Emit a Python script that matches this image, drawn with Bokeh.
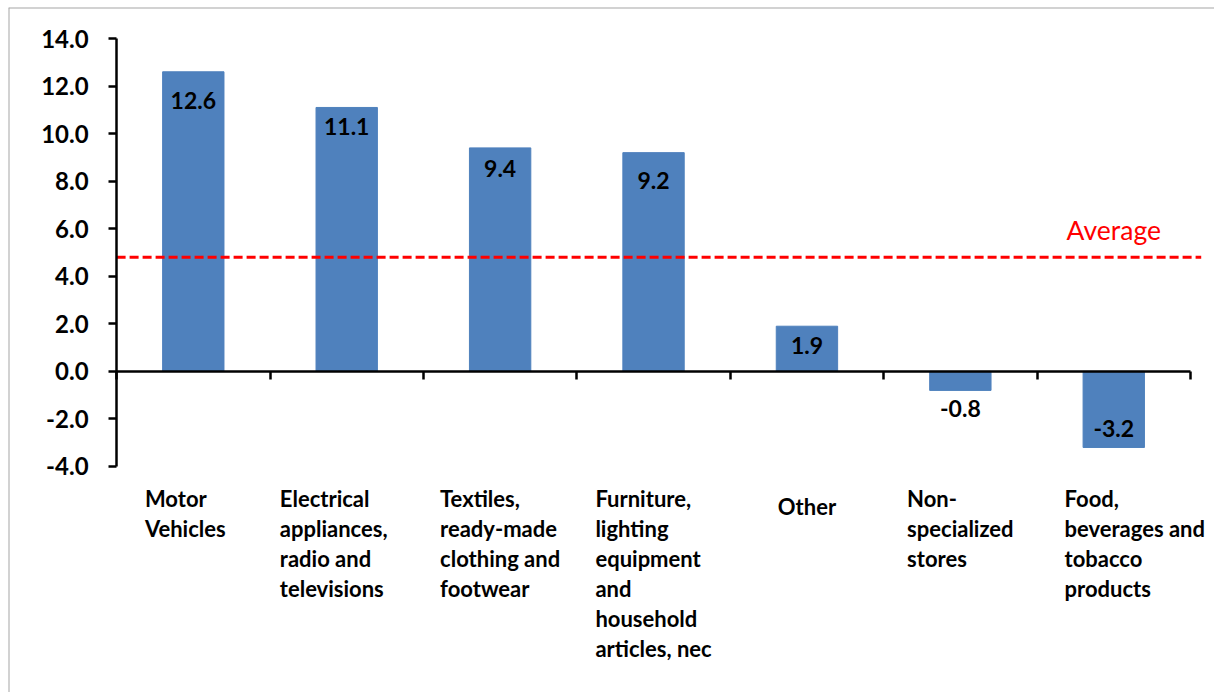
from bokeh.plotting import figure
from bokeh.models import Span, FixedTicker, NumeralTickFormatter, ColumnDataSource
from bokeh.core.properties import value
from bokeh.embed import file_html
from bokeh.resources import INLINE

# ---- data ----
categories = [
    "Motor\nVehicles",
    "Electrical\nappliances,\nradio and\ntelevisions",
    "Textiles,\nready-made\nclothing and\nfootwear",
    "Furniture,\nlighting\nequipment\nand\nhousehold\narticles, nec",
    "Other",
    "Non-\nspecialized\nstores",
    "Food,\nbeverages and\ntobacco\nproducts",
]
values = [12.6, 11.1, 9.4, 9.2, 1.9, -0.8, -3.2]
average = 4.8
average_label = "Average"
y_ticks = [-4, -2, 0, 2, 4, 6, 8, 10, 12, 14]

# ---- styles ----
BAR = "#4F81BD"
FONT = "Lato"
value_label_dy = [29, 19, 21, 28, 19, 18, -19]   # px from bar end to label centre
cat_label_dy = [0, 0, 0, 0, 8, 0, 0]
cat_label_dx = [-8, -13, 0, 0, 0, 0, 21]

n = len(categories)
xs = list(range(n))

p = figure(width=1214, height=692, output_backend="svg", toolbar_location=None,
           x_range=(-1.2046, n - 0.5 + 0.1566), y_range=(-13.505, 15.304),
           min_border_left=8, min_border_top=7, min_border_right=0, min_border_bottom=0)
p.grid.visible = False
p.outline_line_color = None
p.background_fill_color = "white"
p.border_fill_color = "white"

# chart-area border (left and top)
p.add_layout(Span(location=p.x_range.start, dimension="height", line_color="#A6A6A6", line_width=2))
p.add_layout(Span(location=p.y_range.end, dimension="width", line_color="#A6A6A6", line_width=2))

# bars
p.vbar(x=xs, top=values, bottom=0, width=0.4, fill_color=BAR, line_color=BAR)

# average line
p.segment(x0=[-0.5], x1=[n - 0.5 + 0.07], y0=[average], y1=[average],
          line_color="#FF0000", line_width=3, line_dash="9 4")
p.text(x=[n - 1], y=[average], text=[average_label], text_color="#FF0000",
       text_font=value(FONT), text_font_size="26.5px", text_align="center",
       text_baseline="bottom", y_offset=-11)

# value labels
lab_src = ColumnDataSource(dict(x=xs, y=values, t=[f"{v:.1f}" for v in values], dy=value_label_dy))
p.text(x="x", y="y", text="t", source=lab_src, text_font=value(FONT), text_font_style="bold",
       text_font_size="23px", text_color="black", text_align="center", text_baseline="middle",
       y_offset="dy")

# category labels
cat_src = ColumnDataSource(dict(x=xs, y=[min(y_ticks)] * n, t=categories,
                                dy=[19 + d for d in cat_label_dy], dx=cat_label_dx))
p.text(x="x", y="y", text="t", source=cat_src, text_font=value(FONT), text_font_style="bold",
       text_font_size="22px", text_color="black", text_align="left", anchor="top_center",
       text_line_height=1.11, x_offset="dx", y_offset="dy")

# axes
ya = p.yaxis[0]
ya.fixed_location = -0.5
ya.bounds = (min(y_ticks), max(y_ticks))
ya.ticker = FixedTicker(ticks=y_ticks)
ya.formatter = NumeralTickFormatter(format="0.0")
ya.major_tick_out = 8
ya.major_tick_in = 0
ya.minor_tick_line_color = None
ya.axis_line_width = 2.5
ya.major_tick_line_width = 2.5
ya.major_label_standoff = 20
ya.major_label_text_font = FONT
ya.major_label_text_font_style = "bold"
ya.major_label_text_font_size = "24px"
ya.major_label_text_color = "black"

xa = p.xaxis[0]
xa.fixed_location = 0
xa.bounds = (-0.5, n - 0.5)
xa.ticker = FixedTicker(ticks=[], minor_ticks=[i - 0.5 for i in range(n + 1)])
xa.major_tick_line_color = None
xa.minor_tick_out = 8
xa.minor_tick_in = 0
xa.minor_tick_line_color = "black"
xa.minor_tick_line_width = 2.5
xa.axis_line_width = 2.5

open("out.html", "w").write(file_html(p, INLINE))
